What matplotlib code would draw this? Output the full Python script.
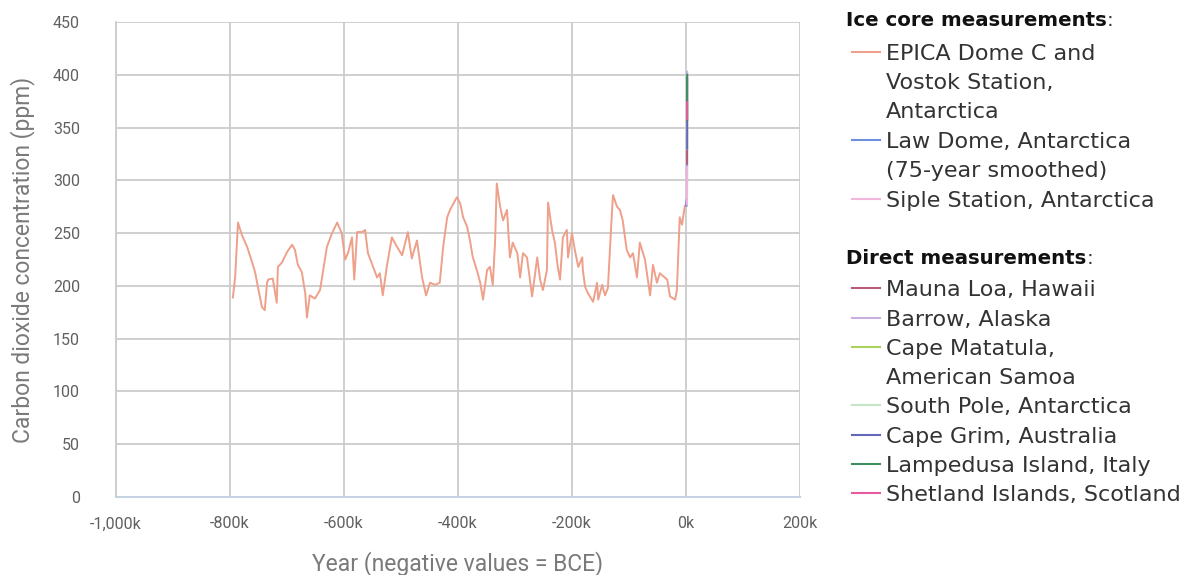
import matplotlib
matplotlib.use("Agg")
import matplotlib.pyplot as plt
from matplotlib.lines import Line2D
from matplotlib.ticker import FuncFormatter

# EPICA Dome C / Vostok composite (thousand years, ppm)
epica_kyr = [-795, -791, -786, -779, -770, -761, -756, -751, -744, -739, -735, -733,
             -725, -718, -716, -709, -700, -691, -686, -681, -674, -668, -665, -660,
             -651, -642, -630, -621, -612, -604, -598, -593, -586, -582, -577, -568,
             -563, -558, -549, -542, -537, -532, -525, -516, -507, -498, -493, -488,
             -481, -472, -463, -456, -449, -440, -432, -426, -419, -414, -405, -402,
             -396, -391, -384, -379, -374, -367, -361, -356, -349, -344, -339, -335,
             -332, -326, -321, -314, -309, -304, -296, -291, -286, -279, -270, -261,
             -256, -251, -244, -242, -235, -230, -225, -221, -216, -209, -207, -200,
             -195, -189, -182, -181, -177, -172, -163, -156, -154, -147, -142, -137,
             -130, -128, -121, -116, -111, -104, -98, -93, -86, -81, -72, -63, -58,
             -51, -46, -33, -28, -19, -16, -11, -7, -2]
epica_ppm = [189, 208, 260, 248, 237, 222, 213, 199, 180, 177, 203, 206,
             207, 184, 218, 222, 232, 239, 234, 220, 213, 193, 170, 191,
             188, 196, 237, 250, 260, 250, 225, 231, 246, 206, 251, 251,
             253, 231, 218, 208, 212, 191, 218, 246, 237, 229, 240, 251,
             226, 243, 208, 191, 203, 201, 203, 237, 265, 272, 281, 284,
             278, 265, 256, 243, 227, 215, 203, 187, 215, 218, 201, 241,
             297, 275, 262, 272, 227, 241, 231, 208, 231, 227, 190, 227,
             206, 196, 215, 279, 253, 241, 218, 206, 246, 253, 227, 250,
             234, 218, 227, 215, 199, 193, 185, 203, 187, 201, 191, 198,
             269, 286, 275, 272, 262, 234, 227, 231, 208, 241, 225, 191, 220,
             203, 212, 206, 190, 187, 196, 265, 258, 276]

law_year = [13, 500, 1000, 1200, 1500, 1600, 1700, 1800, 1850, 1900, 1950, 1978]
law_ppm = [276, 279, 279, 282, 282, 276, 277, 283, 285, 296, 311, 331]
siple_year = [1744, 1800, 1850, 1900, 1953]
siple_ppm = [277, 281, 287, 296, 313]
mauna_year = [1959, 1970, 1980, 1990, 2000, 2010, 2015]
mauna_ppm = [316, 326, 339, 354, 370, 390, 401]
barrow_year = [1974, 1980, 1990, 2000, 2010, 2015]
barrow_ppm = [333, 341, 356, 371, 392, 403]
samoa_year = [1976, 1980, 1990, 2000, 2010, 2015]
samoa_ppm = [330, 337, 352, 368, 387, 398]
spole_year = [1976, 1980, 1990, 2000, 2010, 2015]
spole_ppm = [330, 336, 351, 367, 386, 398]
grim_year = [1976, 1980, 1990, 2000, 2010, 2015]
grim_ppm = [330, 336, 351, 367, 386, 397]
lamp_year = [1993, 2000, 2010, 2015]
lamp_ppm = [357, 369, 389, 400]
shet_year = [1993, 1996, 2000, 2002]
shet_ppm = [358, 363, 370, 374]

ice_labels = ["EPICA Dome C and\nVostok Station,\nAntarctica",
              "Law Dome, Antarctica\n(75-year smoothed)",
              "Siple Station, Antarctica"]
direct_labels = ["Mauna Loa, Hawaii", "Barrow, Alaska",
                 "Cape Matatula,\nAmerican Samoa", "South Pole, Antarctica",
                 "Cape Grim, Australia", "Lampedusa Island, Italy",
                 "Shetland Islands, Scotland"]

c_epica = "#eea08a"
c_law = "#6f8fdc"
c_siple = "#f2b6dc"
c_mauna = "#b85a78"
c_barrow = "#c9aee0"
c_samoa = "#a8d25a"
c_spole = "#c4e6c4"
c_grim = "#6468b8"
c_lamp = "#3f8f5e"
c_shet = "#ea5a9e"

fig = plt.figure(figsize=(11.86, 5.75), dpi=100)
ax = fig.add_axes([116 / 1186, 1 - 497 / 575, 684 / 1186, 475 / 575])

ax.plot([k * 1000 for k in epica_kyr], epica_ppm, color=c_epica, lw=1.4)
ax.plot(law_year, law_ppm, color=c_law, lw=1.4)
ax.plot(siple_year, siple_ppm, color=c_siple, lw=1.4)
ax.plot(mauna_year, mauna_ppm, color=c_mauna, lw=1.4)
ax.plot(barrow_year, barrow_ppm, color=c_barrow, lw=1.4)
ax.plot(samoa_year, samoa_ppm, color=c_samoa, lw=1.4)
ax.plot(spole_year, spole_ppm, color=c_spole, lw=1.4)
ax.plot(grim_year, grim_ppm, color=c_grim, lw=1.4)
ax.plot(lamp_year, lamp_ppm, color=c_lamp, lw=1.4)
ax.plot(shet_year, shet_ppm, color=c_shet, lw=1.4)

ax.set_xlim(-1000000, 200000)
ax.set_ylim(0, 450)
ax.set_xticks(range(-1000000, 200001, 200000))
ax.set_yticks(range(0, 451, 50))
ax.xaxis.set_major_formatter(FuncFormatter(lambda v, p: f"{v / 1000:,.0f}k"))
ax.grid(True, color="#cccccc", lw=1.3)
ax.set_axisbelow(True)
ax.tick_params(length=0, labelsize=11.5, labelcolor="#606060")
ax.tick_params(axis="x", pad=14)
ax.tick_params(axis="y", pad=26)
for lab in ax.get_xticklabels() + ax.get_yticklabels():
    lab.set_fontfamily("Roboto")
for s in ["top", "right"]:
    ax.spines[s].set_visible(False)
ax.spines["left"].set_color("#cccccc")
ax.spines["left"].set_linewidth(1.3)
ax.spines["bottom"].set_color("#c4d2e2")
ax.spines["bottom"].set_linewidth(1.5)

ax.set_xlabel("Year (negative values = BCE)", fontsize=16.5, color="#7a7a7a",
              family="Roboto", labelpad=14)
ax.set_ylabel("Carbon dioxide concentration (ppm)", fontsize=16.5, color="#7a7a7a",
              family="Roboto", labelpad=13)

# legend drawn by hand so it can have two headed groups
W, H = 1186, 575
fs_head = 14.2
fs = 16
row = 29


def header(txt, py):
    t = fig.text(846 / W, 1 - py / H, txt, fontsize=fs_head, fontweight="bold",
                 color="#111111", va="center", ha="left")
    ax.annotate(":", xy=(1, 0.5), xycoords=t, va="center", ha="left",
                fontsize=fs_head, color="#333333", annotation_clip=False)


def entry(txt, color, py):
    fig.add_artist(Line2D([852 / W, 880 / W], [1 - py / H] * 2, color=color, lw=1.5))
    for i, line in enumerate(txt.split("\n")):
        fig.text(886 / W, 1 - (py + i * row) / H, line, fontsize=fs,
                 color="#333333", va="center_baseline", ha="left")


header("Ice core measurements", 20)
entry(ice_labels[0], c_epica, 52)
entry(ice_labels[1], c_law, 140)
entry(ice_labels[2], c_siple, 199)
header("Direct measurements", 258)
direct_colors = [c_mauna, c_barrow, c_samoa, c_spole, c_grim, c_lamp, c_shet]
direct_py = [288, 318, 347, 405, 435, 464, 493]
for lab, col, py in zip(direct_labels, direct_colors, direct_py):
    entry(lab, col, py)

fig.savefig("out.png", dpi=100)
